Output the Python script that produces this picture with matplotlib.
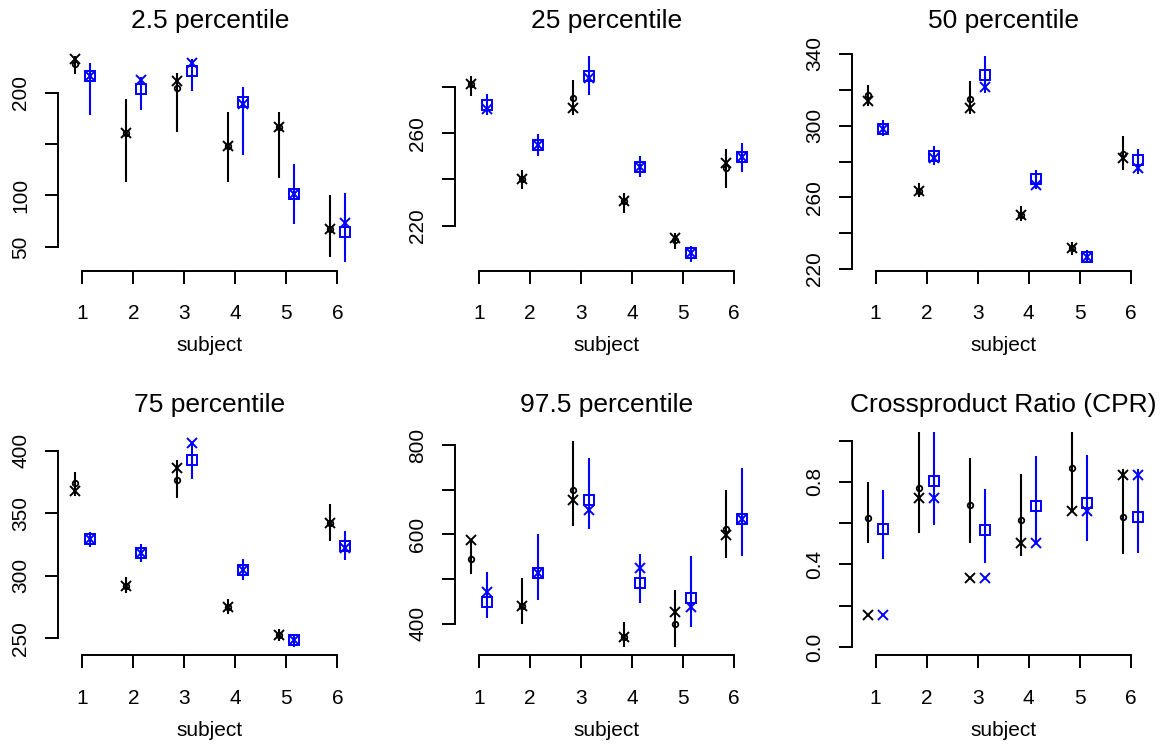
import matplotlib
matplotlib.use("Agg")
import matplotlib.pyplot as plt

plt.rcParams["font.family"] = ["Liberation Sans", "DejaVu Sans"]

# ---------------------------------------------------------------- data
subjects = [1, 2, 3, 4, 5, 6]
titles = ["2.5 percentile", "25 percentile", "50 percentile",
          "75 percentile", "97.5 percentile", "Crossproduct Ratio (CPR)"]

# 2.5 percentile
p025_black_est = [228, 161, 205, 148, 167, 67]
p025_black_obs = [233, 161, 211, 148, 167, 67]
p025_black_lo = [218, 113, 162, 113, 117, 40]
p025_black_hi = [236, 194, 219, 181, 181, 100]
p025_blue_est = [216, 204, 221, 191, 101, 64]
p025_blue_obs = [216, 212, 229, 189, 101, 73]
p025_blue_lo = [178, 183, 202, 139, 72, 35]
p025_blue_hi = [229, 215, 233, 206, 131, 102]

# 25 percentile
p25_black_est = [281.1, 240.0, 275.1, 230.5, 213.8, 244.8]
p25_black_obs = [281.1, 240.0, 270.8, 230.5, 214.7, 246.9]
p25_black_lo = [276.1, 235.7, 267.8, 225.5, 209.9, 236.1]
p25_black_hi = [284.7, 244.2, 282.9, 234.0, 216.8, 253.1]
p25_blue_est = [272.2, 255.0, 284.7, 245.5, 208.2, 249.8]
p25_blue_obs = [270.4, 255.0, 283.7, 245.5, 208.2, 249.8]
p25_blue_lo = [267.8, 250.1, 276.4, 240.9, 204.2, 243.0]
p25_blue_hi = [276.8, 259.4, 293.4, 249.9, 211.4, 255.5]

# 50 percentile
p50_black_est = [316.9, 263.4, 315.0, 250.4, 231.5, 284.4]
p50_black_obs = [313.9, 263.4, 309.9, 250.4, 231.5, 282.0]
p50_black_lo = [311.1, 260.0, 306.7, 246.7, 228.1, 275.5]
p50_black_hi = [322.5, 268.0, 324.7, 255.0, 235.2, 294.0]
p50_blue_est = [298.3, 283.3, 328.0, 270.5, 226.8, 280.7]
p50_blue_obs = [298.3, 282.0, 321.5, 267.1, 226.8, 276.4]
p50_blue_lo = [294.4, 278.3, 318.2, 264.7, 223.8, 273.3]
p50_blue_hi = [303.0, 288.5, 339.0, 275.5, 230.5, 287.2]

# 75 percentile
p75_black_est = [374.1, 292.0, 376.7, 274.6, 252.3, 342.0]
p75_black_obs = [367.4, 292.0, 386.1, 274.6, 252.3, 342.0]
p75_black_lo = [363.4, 285.8, 362.0, 269.7, 247.5, 327.8]
p75_black_hi = [382.9, 298.6, 392.3, 281.2, 257.7, 357.2]
p75_blue_est = [329.1, 317.9, 392.3, 304.5, 248.3, 323.8]
p75_blue_obs = [329.1, 317.9, 406.2, 304.5, 248.3, 321.9]
p75_blue_lo = [323.3, 310.7, 377.5, 296.5, 243.0, 312.5]
p75_blue_hi = [334.8, 325.1, 408.0, 313.3, 252.9, 335.8]

# 97.5 percentile
p975_black_est = [544.8, 439.8, 700.6, 369.8, 398.9, 613.4]
p975_black_obs = [587.3, 439.8, 676.6, 369.8, 427.0, 598.4]
p975_black_lo = [511.3, 399.6, 619.2, 347.5, 347.5, 547.7]
p975_black_hi = [590.0, 503.0, 810.7, 404.7, 475.5, 700.6]
p975_blue_est = [449.4, 514.2, 678.2, 491.9, 458.3, 635.8]
p975_blue_obs = [471.7, 514.2, 655.9, 524.0, 438.2, 635.8]
p975_blue_lo = [412.3, 453.2, 611.8, 445.8, 392.2, 552.2]
p975_blue_hi = [515.0, 600.7, 771.2, 556.0, 552.2, 749.7]

# crossproduct ratio
cpr_black_est = [0.627, 0.771, 0.688, 0.615, 0.866, 0.631]
cpr_black_obs = [0.154, 0.721, 0.332, 0.505, 0.661, 0.834]
cpr_black_lo = [0.502, 0.554, 0.505, 0.442, 0.664, 0.450]
cpr_black_hi = [0.797, 1.100, 0.915, 0.839, 1.080, 0.860]
cpr_blue_est = [0.570, 0.805, 0.567, 0.683, 0.696, 0.631]
cpr_blue_obs = [0.154, 0.721, 0.332, 0.505, 0.661, 0.834]
cpr_blue_lo = [0.426, 0.591, 0.405, 0.500, 0.515, 0.456]
cpr_blue_hi = [0.761, 1.120, 0.765, 0.923, 0.931, 0.860]

# y-axis ticks and their labels ('' = tick without label)
p025_yticks = [50, 100, 150, 200]
p025_ylabels = ["50", "100", "", "200"]
p25_yticks = [220, 240, 260, 280]
p25_ylabels = ["220", "", "260", ""]
p50_yticks = [220, 240, 260, 280, 300, 320, 340]
p50_ylabels = ["220", "", "260", "", "300", "", "340"]
p75_yticks = [250, 300, 350, 400]
p75_ylabels = ["250", "300", "350", "400"]
p975_yticks = [400, 500, 600, 700, 800]
p975_ylabels = ["400", "", "600", "", "800"]
cpr_yticks = [0.0, 0.2, 0.4, 0.6, 0.8, 1.0]
cpr_ylabels = ["0.0", "", "0.4", "", "0.8", ""]
xtick_labels = ["1", "2", "3", "4", "5", "6"]
xlabel = "subject"

panels = [
    (p025_black_est, p025_black_obs, p025_black_lo, p025_black_hi,
     p025_blue_est, p025_blue_obs, p025_blue_lo, p025_blue_hi,
     p025_yticks, p025_ylabels, None),
    (p25_black_est, p25_black_obs, p25_black_lo, p25_black_hi,
     p25_blue_est, p25_blue_obs, p25_blue_lo, p25_blue_hi,
     p25_yticks, p25_ylabels, None),
    (p50_black_est, p50_black_obs, p50_black_lo, p50_black_hi,
     p50_blue_est, p50_blue_obs, p50_blue_lo, p50_blue_hi,
     p50_yticks, p50_ylabels, None),
    (p75_black_est, p75_black_obs, p75_black_lo, p75_black_hi,
     p75_blue_est, p75_blue_obs, p75_blue_lo, p75_blue_hi,
     p75_yticks, p75_ylabels, None),
    (p975_black_est, p975_black_obs, p975_black_lo, p975_black_hi,
     p975_blue_est, p975_blue_obs, p975_blue_lo, p975_blue_hi,
     p975_yticks, p975_ylabels, None),
    (cpr_black_est, cpr_black_obs, cpr_black_lo, cpr_black_hi,
     cpr_blue_est, cpr_blue_obs, cpr_blue_lo, cpr_blue_hi,
     cpr_yticks, cpr_ylabels, (0.0, 1.0)),
]

# ---------------------------------------------------------------- layout
W, H = 1165, 745
fig = plt.figure(figsize=(W / 100, H / 100), dpi=100)

col_left = [58.3, 455.0, 851.7]   # px, plot-region left edges
row_top = [47.5, 432.3]           # px, plot-region top edges
pw, ph = 303.0, 223.0             # plot-region size in px
shift = 0.15                      # horizontal dodge of the two series
lw = 1.4
tick_len = 9.7

for i, (bk_est, bk_obs, bk_lo, bk_hi, bl_est, bl_obs, bl_lo, bl_hi,
        yt, yl, fixed) in enumerate(panels):
    r, c = divmod(i, 3)
    left, top = col_left[c], row_top[r]
    ax = fig.add_axes([left / W, (H - top - ph) / H, pw / W, ph / H])

    xb = [s - shift for s in subjects]
    xu = [s + shift for s in subjects]

    ax.vlines(xb, bk_lo, bk_hi, color="black", lw=1.5)
    ax.vlines(xu, bl_lo, bl_hi, color="blue", lw=1.5)
    ax.plot(xb, bk_est, ls="none", marker="o", ms=4.0, mfc="none",
            mec="black", mew=1.3)
    ax.plot(xb, bk_obs, ls="none", marker="x", ms=7.5, mec="black", mew=1.4)
    ax.plot(xu, bl_est, ls="none", marker="s", ms=7.0, mfc="none",
            mec="blue", mew=1.4)
    ax.plot(xu, bl_obs, ls="none", marker="x", ms=7.5, mec="blue", mew=1.4)

    # y range: padded by 4% as in classic range-based scales
    if fixed is None:
        vals = bk_est + bk_obs + bk_lo + bk_hi + bl_est + bl_obs + bl_lo + bl_hi
        lo, hi = min(vals), max(vals)
    else:
        lo, hi = fixed
    pad = 0.04 * (hi - lo)
    ax.set_ylim(lo - pad, hi + pad)
    ax.set_xlim(0.53, 6.47)

    for side in ("top", "right"):
        ax.spines[side].set_visible(False)
    ax.spines["left"].set_bounds(yt[0], yt[-1])
    ax.spines["bottom"].set_bounds(subjects[0], subjects[-1])
    for side in ("left", "bottom"):
        ax.spines[side].set_linewidth(lw)

    ax.set_xticks(subjects)
    ax.set_xticklabels(xtick_labels)
    ax.set_yticks(yt)
    ax.set_yticklabels(yl, rotation=90, va="center")
    ax.tick_params(axis="both", direction="out", length=tick_len, width=lw,
                   labelsize=15)
    ax.tick_params(axis="x", pad=14.5)
    ax.tick_params(axis="y", pad=10.4)

    cx = (left + pw / 2) / W
    fig.text(cx, 1 - (27.7 + 384.5 * r) / H, titles[i], ha="center",
             va="baseline", fontsize=19)
    fig.text(cx, 1 - (351.0 + 384.5 * r) / H, xlabel, ha="center",
             va="baseline", fontsize=15)

fig.savefig("out.png", dpi=100)
